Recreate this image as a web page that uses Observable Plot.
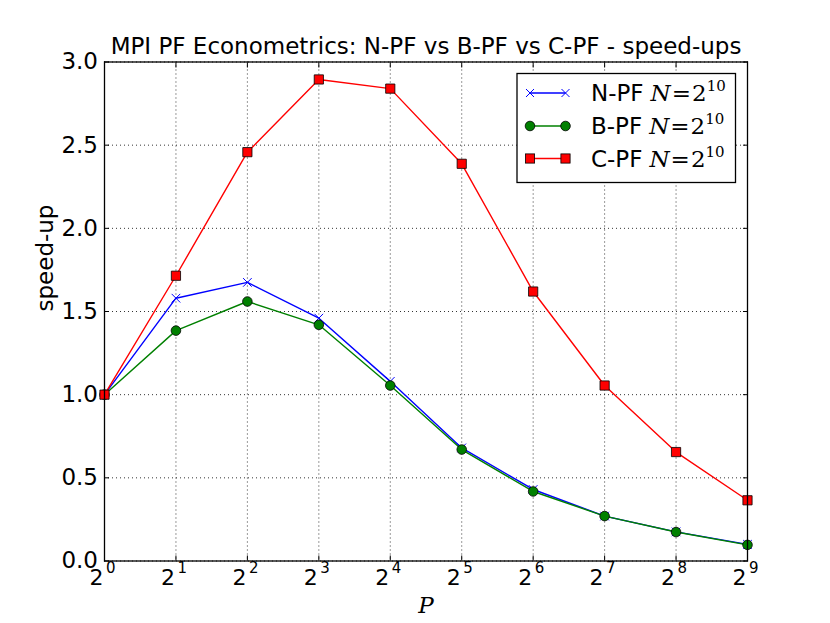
<!DOCTYPE html>
<html>
<head>
<meta charset="utf-8">
<script src="https://cdn.jsdelivr.net/npm/d3@7"></script>
<script src="https://cdn.jsdelivr.net/npm/@observablehq/plot@0.6"></script>
<style>
  html, body { margin: 0; padding: 0; background: white; }
  #chart svg { display: block; }
</style>
</head>
<body>
<div id="chart"></div>
<script>
// Data
const P = [1, 2, 4, 8, 16, 32, 64, 128, 256, 512];
const exponents = [0, 1, 2, 3, 4, 5, 6, 7, 8, 9];
const npf = [1.0, 1.58, 1.675, 1.46, 1.08, 0.68, 0.43, 0.27, 0.175, 0.10];
const bpf = [1.0, 1.385, 1.56, 1.42, 1.055, 0.67, 0.418, 0.27, 0.174, 0.097];
const cpf = [1.0, 1.715, 2.458, 2.895, 2.84, 2.388, 1.62, 1.055, 0.655, 0.365];
const yTicks = [0, 0.5, 1.0, 1.5, 2.0, 2.5, 3.0];
const seriesNames = ["N-PF", "B-PF", "C-PF"];
const seriesColors = ["#0000ff", "#008000", "#ff0000"];
const titleText = "MPI PF Econometrics: N-PF vs B-PF vs C-PF - speed-ups";

const rows = s => P.map((p, i) => ({P: p, v: s[i]}));
const nRows = rows(npf), bRows = rows(bpf), cRows = rows(cpf);

const W = 830, H = 623;
const mL = 104, mR = 83, mT = 61.5, mB = 62.5;

const plot = Plot.plot({
  width: W, height: H,
  marginLeft: mL, marginRight: mR, marginTop: mT, marginBottom: mB,
  style: {fontFamily: "DejaVu Sans", fontSize: "22px", background: "white", color: "black"},
  x: {type: "log", base: 2, domain: [1, 512]},
  y: {domain: [0, 3]},
  marks: [
    Plot.gridX(P, {stroke: "black", strokeOpacity: 1, strokeWidth: 0.8, strokeDasharray: "1,3"}),
    Plot.gridY(yTicks, {stroke: "black", strokeOpacity: 1, strokeWidth: 0.8, strokeDasharray: "1,3"}),
    Plot.axisY(yTicks, {anchor: "left", tickSize: -5, tickPadding: 11.5, tickFormat: d => d.toFixed(1), fontSize: 23, label: null}),
    Plot.axisY(yTicks, {anchor: "right", tickSize: -5, tickFormat: () => "", label: null}),
    Plot.axisX(P, {anchor: "bottom", tickSize: -5, tickFormat: () => "", label: null}),
    Plot.axisX(P, {anchor: "top", tickSize: -5, tickFormat: () => "", label: null}),
    // x tick labels: base and exponent
    Plot.text(P, {x: d => d, text: () => "2", frameAnchor: "bottom", lineAnchor: "middle", textAnchor: "end", dx: -1, dy: 17, fontSize: 22}),
    Plot.text(P, {x: d => d, text: (d, i) => String(exponents[i]), frameAnchor: "bottom", lineAnchor: "middle", textAnchor: "start", dx: 1.5, dy: 7, fontSize: 15}),
    // series
    Plot.line(nRows, {x: "P", y: "v", stroke: seriesColors[0], strokeWidth: 1.4}),
    Plot.dot(nRows, {x: "P", y: "v", symbol: "times", r: 4, stroke: seriesColors[0], strokeWidth: 1}),
    Plot.line(bRows, {x: "P", y: "v", stroke: seriesColors[1], strokeWidth: 1.4}),
    Plot.dot(bRows, {x: "P", y: "v", symbol: "circle", r: 4.8, fill: seriesColors[1], stroke: "black", strokeWidth: 0.8}),
    Plot.line(cRows, {x: "P", y: "v", stroke: seriesColors[2], strokeWidth: 1.4}),
    Plot.dot(cRows, {x: "P", y: "v", symbol: "square", r: 5.2, fill: seriesColors[2], stroke: "black", strokeWidth: 0.8}),
    Plot.frame({stroke: "black", strokeWidth: 1.3}),
    // title and axis labels
    Plot.text([titleText], {text: d => d, frameAnchor: "top", lineAnchor: "middle", dy: -15.5, fontSize: 23}),
    Plot.text(["P"], {text: d => d, frameAnchor: "bottom", lineAnchor: "middle", dy: 44.5, fontSize: 23, fontStyle: "italic", fontFamily: "DejaVu Serif"}),
    Plot.text(["speed-up"], {text: d => d, frameAnchor: "left", lineAnchor: "middle", dx: -59, rotate: -90, fontSize: 23})
  ]
});

document.getElementById("chart").appendChild(plot);

// Legend (inside the plot, upper right)
const svg = d3.select(plot);
const lg = svg.append("g").attr("font-family", "DejaVu Sans").attr("text-anchor", "start");
const bx = 517, by = 73.5, bw = 218.5, bh = 109;
lg.append("rect").attr("x", bx).attr("y", by).attr("width", bw).attr("height", bh)
  .attr("fill", "white").attr("stroke", "black").attr("stroke-width", 1.3);
const rowsY = [93, 126, 158.5];
const sym = ["times", "circle", "square"];
seriesNames.forEach((name, i) => {
  const y = rowsY[i], x1 = 530, x2 = 565.5, c = seriesColors[i];
  lg.append("line").attr("x1", x1).attr("x2", x2).attr("y1", y).attr("y2", y)
    .attr("stroke", c).attr("stroke-width", 1.4);
  [x1, x2].forEach(x => {
    if (sym[i] === "times") {
      lg.append("path").attr("d", `M${x-4},${y-4}L${x+4},${y+4}M${x-4},${y+4}L${x+4},${y-4}`)
        .attr("stroke", c).attr("stroke-width", 1);
    } else if (sym[i] === "circle") {
      lg.append("circle").attr("cx", x).attr("cy", y).attr("r", 4.8)
        .attr("fill", c).attr("stroke", "black").attr("stroke-width", 0.8);
    } else {
      lg.append("rect").attr("x", x - 4.6).attr("y", y - 4.6).attr("width", 9.2).attr("height", 9.2)
        .attr("fill", c).attr("stroke", "black").attr("stroke-width", 0.8);
    }
  });
  const t = lg.append("text").attr("x", 591).attr("y", y + 8).attr("font-size", 23);
  t.append("tspan").text(name);
  t.append("tspan").attr("dx", 7).attr("font-family", "DejaVu Serif").attr("font-style", "italic").text("N");
  t.append("tspan").attr("font-family", "DejaVu Serif").attr("dx", 1).text("=");
  t.append("tspan").attr("font-family", "DejaVu Serif").attr("dx", 1).text("2");
  t.append("tspan").attr("font-family", "DejaVu Serif").attr("font-size", 15).attr("dy", -10).text("10");
});
</script>
</body>
</html>
